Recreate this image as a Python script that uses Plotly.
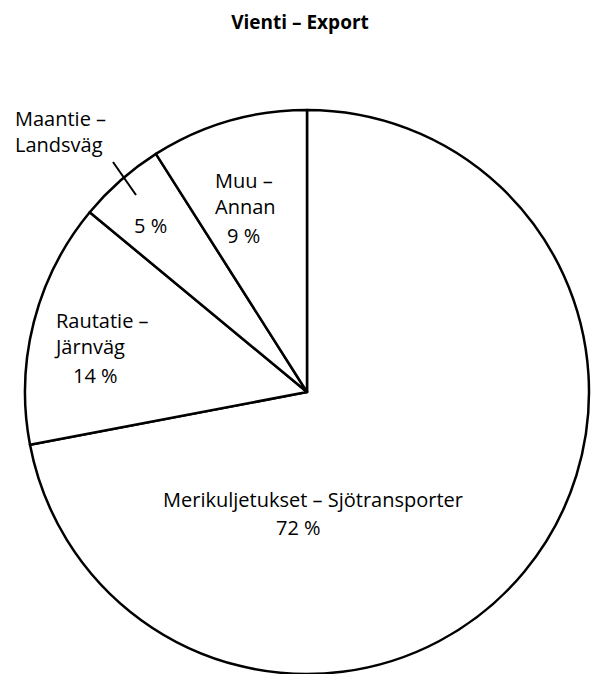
import plotly.graph_objects as go

# data
labels_fi = ["Merikuljetukset", "Rautatie", "Maantie", "Muu"]
labels_sv = ["Sjötransporter", "Järnväg", "Landsväg", "Annan"]
shares = [72, 14, 5, 9]

W, H = 602, 674
OFF = 8  # page body margin
cx, cy, r = 307, 392, 282  # pie centre / radius in screen px


def px(x, y):
    return (x - OFF) / W, 1 - (y - OFF) / H


(dx0, dy1), (dx1, dy0) = px(cx - r, cy - r), px(cx + r, cy + r)

fig = go.Figure(go.Pie(
    values=shares,
    labels=[f"{a} – {b}" for a, b in zip(labels_fi, labels_sv)],
    sort=False,
    direction="clockwise",
    rotation=0,
    textinfo="none",
    hoverinfo="label+percent",
    marker=dict(colors=["white"] * len(shares), line=dict(color="black", width=2.5)),
    domain=dict(x=[dx0, dx1], y=[dy0, dy1]),
    showlegend=False,
))

font = dict(family="Open Sans, Noto Sans, sans-serif", size=20, color="black")

# (text, x, y, anchor) - positions in screen px
items = [
    (f"{labels_fi[0]} – {labels_sv[0]}", 313, 499, "center"),
    (f"{shares[0]} %", 298, 527, "center"),
    (f"{labels_fi[1]} –<br>{labels_sv[1]}", 52, 333, "left"),
    (f"{shares[1]} %", 95, 375, "center"),
    (f"{labels_fi[2]} –<br>{labels_sv[2]}", 13, 131, "left"),
    (f"{shares[2]} %", 150, 225, "center"),
    (f"{labels_fi[3]} –<br>{labels_sv[3]}", 213, 193, "left"),
    (f"{shares[3]} %", 243, 235, "center"),
]

annotations = []
for t, x, y, al in items:
    ax, ay = px(x, y)
    annotations.append(dict(text=t, x=ax, y=ay, xref="paper", yref="paper",
                            xanchor=al, yanchor="middle", align=al,
                            showarrow=False, font=font))

x0, y0 = px(113, 162)
x1, y1 = px(136, 195)
fig.add_shape(type="line", xref="paper", yref="paper", x0=x0, y0=y0, x1=x1, y1=y1,
              line=dict(color="black", width=2))

tx, ty = px(300, 22)
fig.update_layout(
    width=W, height=H,
    margin=dict(l=0, r=0, t=0, b=0),
    paper_bgcolor="white",
    plot_bgcolor="white",
    title=dict(text="<b>Vienti – Export</b>", x=tx, xanchor="center",
               y=ty, yanchor="middle",
               font=dict(family="Open Sans, Noto Sans, sans-serif", size=19, color="black")),
    annotations=annotations,
)

fig.write_html("out.html")
